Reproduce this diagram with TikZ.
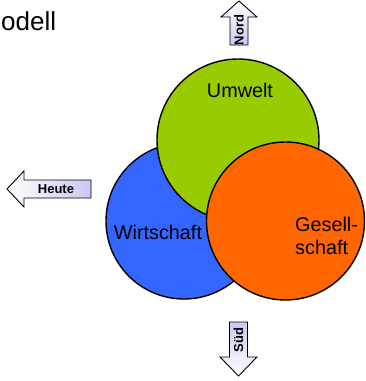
\documentclass[tikz,border=0pt]{standalone}
\usepackage{fontspec}
\setmainfont{Liberation Sans}
\definecolor{umweltgreen}{HTML}{99CC00}
\definecolor{wirtblue}{HTML}{3366FF}
\definecolor{gesorange}{HTML}{FF6600}
\definecolor{lav}{HTML}{C8C8F5}
\begin{document}
\begin{tikzpicture}[x=1pt,y=-1pt,
  circ/.style={draw=black,line width=1.4pt},
  arrowshape/.style={draw=black,line width=0.9pt,line join=miter},
  bigtext/.style={font=\fontsize{19.8}{22}\selectfont,inner sep=0pt},
  arrowtext/.style={font=\fontsize{13}{15}\selectfont\bfseries,inner sep=0pt}]
\useasboundingbox (0,0) rectangle (365,381);
% title fragment
\node[anchor=base west,inner sep=0pt,font=\fontsize{26}{30}\selectfont] (title) at (1,30) {odell};
% circles
\draw[circ,fill=wirtblue] (184,221) circle[radius=78];
\draw[circ,fill=umweltgreen] (238,140) circle[radius=81];
\draw[circ,fill=gesorange] (285.5,221) circle[radius=79];
\node[bigtext] (umwelt) at (240,90) {Umwelt};
\node[bigtext] (wirt) at (158,232) {Wirtschaft};
\node[bigtext,align=left,anchor=west,font=\fontsize{19.8}{23.5}\selectfont] (ges) at (295,236) {Gesell-\\schaft};
% Heute arrow
\path[arrowshape,left color=white,right color=lav]
  (7,189) -- (24,171) -- (24,180) -- (91,180) -- (91,198) -- (24,198) -- (24,207) -- cycle;
\node[arrowtext] (heute) at (56,189) {Heute};
% Nord arrow
\path[arrowshape,top color=white,bottom color=lav]
  (239,1) -- (257,17) -- (248,17) -- (248,45) -- (230,45) -- (230,17) -- (221,17) -- cycle;
\node[arrowtext,rotate=90] (nord) at (239,30) {Nord};
% Sued arrow
\path[arrowshape,top color=lav,bottom color=white]
  (229.5,322) -- (247.5,322) -- (247.5,357) -- (257,357) -- (238.5,376) -- (220,357) -- (229.5,357) -- cycle;
\node[arrowtext,rotate=90] (sued) at (238.5,340) {Süd};
\end{tikzpicture}
\end{document}
